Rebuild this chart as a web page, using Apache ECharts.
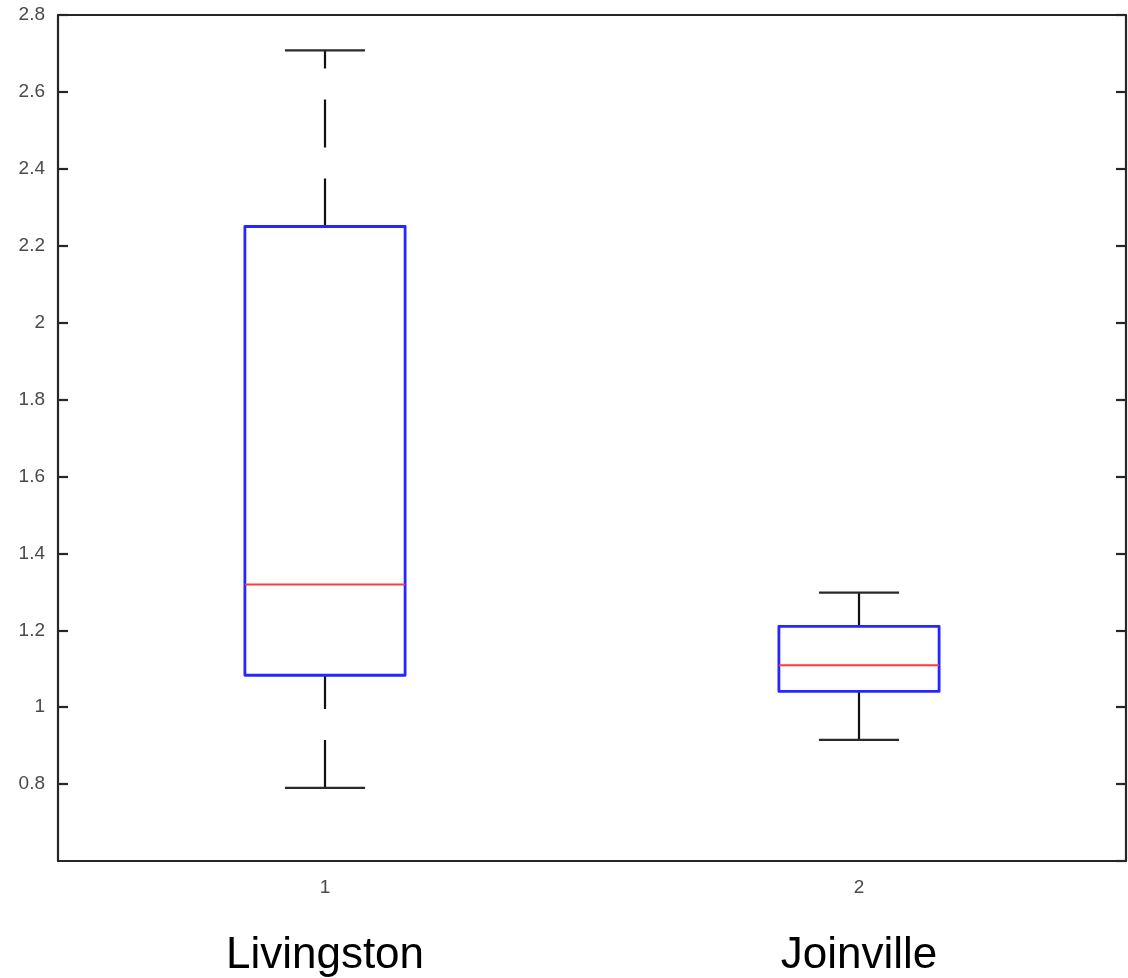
<!DOCTYPE html>
<html>
<head>
<meta charset="utf-8">
<script src="https://cdn.jsdelivr.net/npm/echarts@6/dist/echarts.min.js"></script>
<style>
  html, body { margin: 0; padding: 0; background: #fff; }
  #chart { width: 1128px; height: 978px; }
</style>
</head>
<body>
<div id="chart"></div>
<script>
// ---- data ----
const tickLabels = ['1', '2'];
const groupNames = ['Livingston', 'Joinville'];
const whiskerLow = [0.79, 0.915];
const quartile1 = [1.083, 1.041];
const medians = [1.319, 1.109];
const quartile3 = [2.25, 1.21];
const whiskerHigh = [2.708, 1.298];

// ---- style (not data) ----
const whiskerDash = [[48, 31], null];

const seriesData = tickLabels.map((c, i) => [i, whiskerLow[i], quartile1[i], medians[i], quartile3[i], whiskerHigh[i]]);

function renderItem(params, api) {
  const xi = api.value(0);
  const pMin = api.coord([xi, api.value(1)]);
  const pQ1 = api.coord([xi, api.value(2)]);
  const pMed = api.coord([xi, api.value(3)]);
  const pQ3 = api.coord([xi, api.value(4)]);
  const pMax = api.coord([xi, api.value(5)]);
  const band = api.size([1, 0])[0];
  const bw = band * 0.3;
  const cw = band * 0.15;
  const cx = pMin[0];
  const dash = whiskerDash[params.dataIndex];
  const wStyle = { stroke: '#111', lineWidth: 2.2, lineDash: dash || null, fill: null };
  const capStyle = { stroke: '#2a2a2a', lineWidth: 2.2 };
  return {
    type: 'group',
    children: [
      { type: 'line', shape: { x1: cx, y1: pMin[1], x2: cx, y2: pQ1[1] }, style: wStyle },
      { type: 'line', shape: { x1: cx, y1: pQ3[1], x2: cx, y2: pMax[1] }, style: wStyle },
      { type: 'line', shape: { x1: cx - cw / 2, y1: pMin[1], x2: cx + cw / 2, y2: pMin[1] }, style: capStyle },
      { type: 'line', shape: { x1: cx - cw / 2, y1: pMax[1], x2: cx + cw / 2, y2: pMax[1] }, style: capStyle },
      { type: 'rect', shape: { x: cx - bw / 2, y: pQ3[1], width: bw, height: pQ1[1] - pQ3[1] },
        style: { fill: null, stroke: '#2626ff', lineWidth: 2.8, lineJoin: 'round' } },
      { type: 'line', shape: { x1: cx - bw / 2, y1: pMed[1], x2: cx + bw / 2, y2: pMed[1] },
        style: { stroke: '#ff3a3a', lineWidth: 2.2 } }
    ]
  };
}

const axisLineStyle = { color: '#262626', width: 2.2 };
const chart = echarts.init(document.getElementById('chart'));
chart.setOption({
  animation: false,
  backgroundColor: '#fff',
  grid: { left: 58, right: 2, top: 15, bottom: 116, containLabel: false },
  xAxis: [
    {
      type: 'category', data: tickLabels, position: 'bottom',
      axisLine: { lineStyle: axisLineStyle },
      axisTick: { inside: true, alignWithLabel: true, length: 10, lineStyle: axisLineStyle },
      axisLabel: { color: '#4a4a4a', fontSize: 19, fontFamily: 'Liberation Sans', margin: 17 },
      splitLine: { show: false }
    },
    {
      type: 'category', data: groupNames, position: 'bottom',
      axisLine: { show: false }, axisTick: { show: false },
      axisLabel: { color: '#000', fontSize: 44, fontFamily: 'Liberation Sans', margin: 73 },
      splitLine: { show: false }
    },
    {
      type: 'category', data: tickLabels, position: 'top',
      axisLine: { lineStyle: axisLineStyle },
      axisTick: { inside: true, alignWithLabel: true, length: 10, lineStyle: axisLineStyle },
      axisLabel: { show: false },
      splitLine: { show: false }
    }
  ],
  yAxis: [
    {
      type: 'value', min: 0.6, max: 2.8, interval: 0.2, position: 'left',
      axisLine: { show: true, lineStyle: axisLineStyle },
      axisTick: { show: true, inside: true, length: 10, lineStyle: axisLineStyle },
      axisLabel: { color: '#4a4a4a', fontSize: 19, fontFamily: 'Liberation Sans', margin: 13, showMinLabel: false,
        formatter: v => String(parseFloat(v.toFixed(2))) },
      splitLine: { show: false }
    },
    {
      type: 'value', min: 0.6, max: 2.8, interval: 0.2, position: 'right',
      axisLine: { show: true, lineStyle: axisLineStyle },
      axisTick: { show: true, inside: true, length: 10, lineStyle: axisLineStyle },
      axisLabel: { show: false },
      splitLine: { show: false }
    }
  ],
  series: [
    {
      type: 'custom',
      coordinateSystem: 'cartesian2d',
      xAxisIndex: 0, yAxisIndex: 0,
      renderItem: renderItem,
      encode: { x: 0, y: [1, 2, 3, 4, 5] },
      data: seriesData
    }
  ]
});
</script>
</body>
</html>
